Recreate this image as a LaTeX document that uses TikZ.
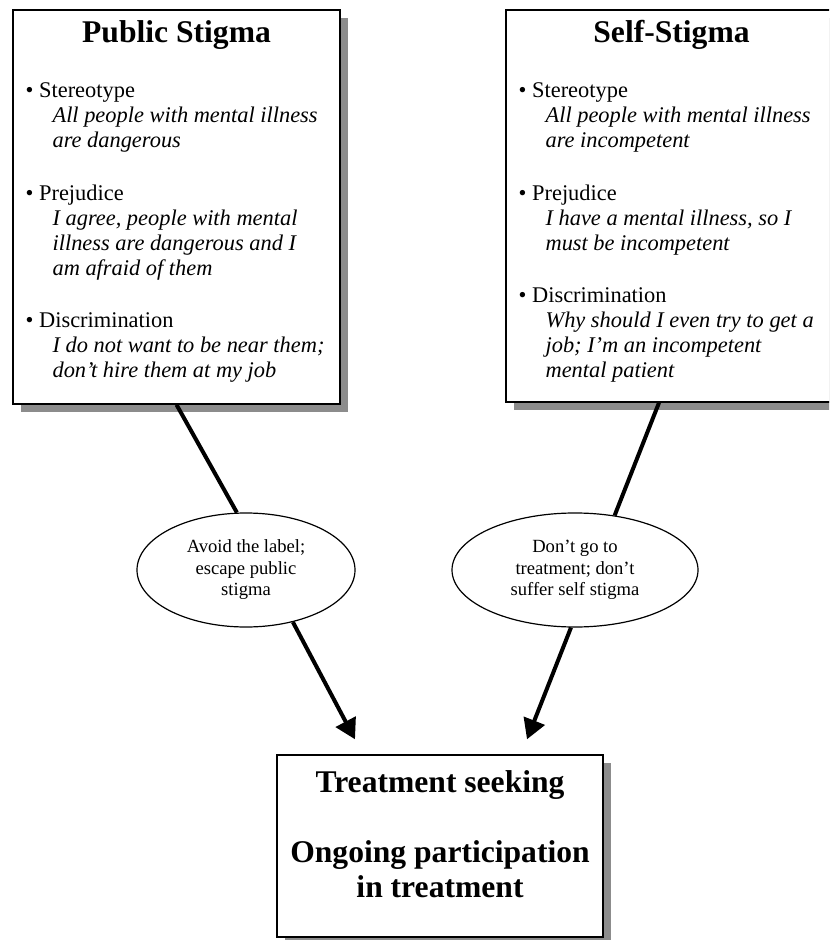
\documentclass[tikz,border=0pt]{standalone}
\usepackage{fontspec}
\setmainfont{Liberation Serif}
\usetikzlibrary{shapes,shadows,arrows.meta}
\tikzstyle{stbox}=[rectangle,draw=black,fill=white,line width=0.7pt,
  drop shadow={shadow xshift=4pt,shadow yshift=-4pt,fill=black!45,opacity=1}]
\tikzstyle{oval}=[ellipse,draw=black,line width=0.6pt,align=center,inner sep=0pt,
  font=\fontsize{9.3}{10.75}\selectfont]
\tikzstyle{sthead}=[font=\fontsize{15.8}{17.5}\selectfont\bfseries,inner sep=0pt]
\tikzstyle{stbody}=[font=\fontsize{11.2}{12.5}\selectfont,align=left,inner sep=0pt]
\tikzstyle{stlink}=[line width=2pt]
\tikzstyle{starr}=[line width=2pt,-{Triangle[length=10pt,width=11pt]}]
\newcommand{\quot}[1]{\hspace*{1.2em}\textit{#1}}

\begin{document}
\begin{tikzpicture}[x=0.5pt,y=-0.5pt]
    \useasboundingbox (0,0) rectangle (829,940);
    \clip (0,0) rectangle (829,940);
    \node [style=stbox,minimum width=163.5pt,minimum height=197pt] (pub) at (176.5,207) {};
    \node [style=stbox,minimum width=165.5pt,minimum height=196pt] (self) at (671.5,206) {};
    \node [style=stbox,minimum width=163pt,minimum height=91pt] (treat) at (440,846) {};
    \node [style=sthead,anchor=base] (pubt) at ([yshift=-16.5pt]pub.north) {Public Stigma};
    \node [style=sthead,anchor=base] (selft) at ([yshift=-16.5pt]self.north) {Self-Stigma};
    \node [style=stbody,anchor=north west] (pubb) at ([xshift=6.5pt,yshift=-36.5pt]pub.north west) {
      \textbullet{} Stereotype\\
      \quot{All people with mental illness}\\
      \quot{are dangerous}\\[13.75pt]
      \textbullet{} Prejudice\\
      \quot{I agree, people with mental}\\
      \quot{illness are dangerous and I}\\
      \quot{am afraid of them}\\[13.75pt]
      \textbullet{} Discrimination\\
      \quot{I do not want to be near them;}\\
      \quot{don't hire them at my job}};
    \node [style=stbody,anchor=north west] (selfb) at ([xshift=6.5pt,yshift=-36.5pt]self.north west) {
      \textbullet{} Stereotype\\
      \quot{All people with mental illness}\\
      \quot{are incompetent}\\[13.75pt]
      \textbullet{} Prejudice\\
      \quot{I have a mental illness, so I}\\
      \quot{must be incompetent}\\[13.75pt]
      \textbullet{} Discrimination\\
      \quot{Why should I even try to get a}\\
      \quot{job; I'm an incompetent}\\
      \quot{mental patient}};
    \node [style=sthead,align=center,anchor=north] (treatt) at ([yshift=-8pt]treat.north)
      {Treatment seeking\\[17.5pt]Ongoing participation\\in treatment};
    \node [style=oval,minimum width=109pt,minimum height=57pt] (avoid) at (246,570)
      {Avoid the label;\\escape public\\stigma};
    \node [style=oval,minimum width=123pt,minimum height=57pt] (dont) at (575,570)
      {Don't go to\\treatment; don't\\suffer self stigma};
    \draw [style=stlink] (pub.south) to (avoid.99);
    \draw [style=stlink] ([xshift=-6.25pt]self.south) to (dont.54);
    \draw [style=starr] (avoid.-48) to ([xshift=-42.5pt,yshift=7.5pt]treat.north);
    \draw [style=starr] (dont.-94) to ([xshift=43.5pt,yshift=7.5pt]treat.north);
  \end{tikzpicture}
\end{document}
